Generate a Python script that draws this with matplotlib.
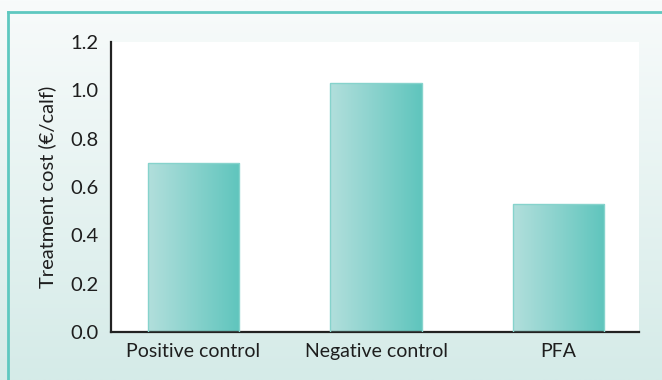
import numpy as np
import matplotlib
matplotlib.use("Agg")
import matplotlib.pyplot as plt
from matplotlib.colors import LinearSegmentedColormap
from matplotlib.lines import Line2D

categories = ["Positive control", "Negative control", "PFA"]
costs = [0.70, 1.03, 0.53]
yticks = [0.0, 0.2, 0.4, 0.6, 0.8, 1.0, 1.2]
ytick_labels = ["0.0", "0.2", "0.4", "0.6", "0.8", "1.0", "1.2"]

plt.rcParams["font.family"] = ["Lato", "DejaVu Sans"]

fig = plt.figure(figsize=(6.62, 3.80), dpi=100)

# panel background: soft vertical wash, lighter at the top
bg = fig.add_axes([0, 0, 1, 1], zorder=-10)
bg_cmap = LinearSegmentedColormap.from_list("bg", ["#d5ebe8", "#f8fbfb"])
bg.imshow(np.linspace(0, 1, 256).reshape(-1, 1), cmap=bg_cmap, aspect="auto",
          origin="lower", extent=[0, 1, 0, 1])
bg.set_xlim(0, 1)
bg.set_ylim(0, 1)
bg.axis("off")

# teal frame on top and left
fig.add_artist(Line2D([8 / 662, 1], [1 - 12 / 380, 1 - 12 / 380], color="#5ec8c0", lw=2.0))
fig.add_artist(Line2D([8 / 662, 8 / 662], [0, 1 - 12 / 380], color="#5ec8c0", lw=2.0))

ax = fig.add_axes([111 / 662, 1 - 332 / 380, 528 / 662, 290 / 380])
ax.set_facecolor("white")

x = np.arange(len(categories))
bars = ax.bar(x, costs, width=0.5, color="none", edgecolor="#86d3cc", lw=1.0, zorder=3)

# horizontal gradient fill inside each bar
bar_cmap = LinearSegmentedColormap.from_list("bar", ["#b2dfdc", "#5fc5bd"])
grad = np.linspace(0, 1, 256).reshape(1, -1)
for b in bars:
    x0, y0 = b.get_x(), b.get_y()
    im = ax.imshow(grad, cmap=bar_cmap, aspect="auto",
                   extent=[x0, x0 + b.get_width(), y0, y0 + b.get_height()], zorder=2)
    im.set_clip_path(b)

ax.set_xlim(-0.452, 2.441)
ax.set_ylim(0, 1.2)
ax.set_xticks(x)
ax.set_xticklabels(categories, fontsize=14, color="#1e1e1e")
ax.set_yticks(yticks)
ax.set_yticklabels(ytick_labels, fontsize=14.5, color="#1e1e1e")
ax.tick_params(axis="y", length=0, pad=9)
ax.tick_params(axis="x", length=0, pad=8)
ax.set_ylabel("Treatment cost (€/calf)", fontsize=14.5, color="#1e1e1e", labelpad=10)

for side in ["top", "right"]:
    ax.spines[side].set_visible(False)
for side in ["left", "bottom"]:
    ax.spines[side].set_color("#222222")
    ax.spines[side].set_linewidth(1.6)

fig.savefig("out.png", dpi=100)
